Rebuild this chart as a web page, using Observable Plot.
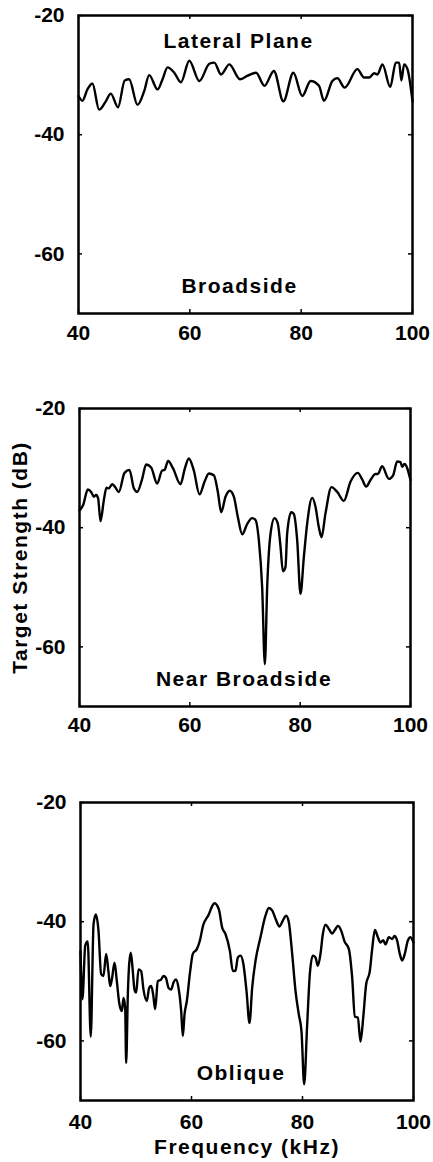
<!DOCTYPE html>
<html>
<head>
<meta charset="utf-8">
<script src="https://cdn.jsdelivr.net/npm/d3@7"></script>
<script src="https://cdn.jsdelivr.net/npm/@observablehq/plot@0.6"></script>
<style>
  html, body { margin: 0; padding: 0; background: #fff; }
  #wrap { position: relative; width: 433px; height: 1162px; overflow: hidden; }
  .panel { position: absolute; left: 0; }
  .panel svg { display: block; }
</style>
</head>
<body>
<div id="wrap"></div>
<script>
// ---- tick values ----
const xTicks = [40, 60, 80, 100];
const yTicks = [-20, -40, -60];

// ---- panel labels ----
const panelNames = ["Broadside", "Near Broadside", "Oblique"];
const planeLabel = "Lateral Plane";
const xAxisLabel = "Frequency (kHz)";
const yAxisLabel = "Target Strength (dB)";

// ---- series: [frequency kHz, target strength dB] ----
const broadside = [
  [40.0,-33.5],[40.7,-34.3],[41.6,-32.4],[42.5,-31.4],[43.7,-35.8],[44.9,-34.4],[45.8,-33.1],
  [47.1,-35.4],[48.3,-30.9],[49.1,-30.7],[50.6,-35.0],[51.8,-32.7],[52.7,-30.0],[54.2,-32.4],
  [55.1,-30.7],[56.0,-28.7],[57.2,-29.6],[58.4,-31.2],[59.9,-27.6],[61.7,-31.0],[63.5,-28.1],
  [64.4,-27.9],[65.6,-29.9],[67.1,-28.2],[69.0,-30.7],[70.4,-30.1],[71.9,-29.6],[73.4,-31.8],
  [75.1,-29.3],[76.8,-34.4],[78.6,-29.6],[80.2,-33.5],[81.7,-31.0],[83.2,-31.8],[84.1,-34.3],
  [85.6,-31.0],[86.5,-30.5],[87.8,-32.1],[90.1,-29.0],[91.3,-30.4],[92.2,-30.4],[93.1,-29.7],
  [93.7,-29.9],[94.6,-28.2],[96.0,-32.0],[97.0,-27.9],[97.6,-27.9],[98.0,-30.9],[98.5,-28.2],
  [99.1,-29.0],[100,-34.4]
];

const nearBroadside = [
  [40,-37.1],[40.66,-36.2],[41.51,-33.6],[42.11,-34.0],[42.6,-34.8],[43.02,-34.5],[43.38,-35.1],
  [43.81,-38.9],[44.41,-35.4],[44.89,-33.3],[45.32,-33.4],[45.92,-32.7],[46.4,-33.1],[47.13,-34.0],
  [48.16,-30.8],[49.06,-30.3],[49.85,-33.4],[50.45,-34.0],[51.36,-31.8],[52.08,-29.4],[52.99,-29.9],
  [54.08,-32.6],[54.98,-30.4],[55.41,-30.3],[56.07,-28.8],[56.98,-30.1],[58.31,-32.7],[59.09,-30.1],
  [59.82,-28.4],[60.72,-30.4],[61.75,-34.4],[62.66,-32.3],[63.44,-30.9],[64.35,-31.2],[65.08,-34.0],
  [65.68,-37.4],[66.47,-34.8],[67.25,-33.8],[67.98,-34.8],[68.7,-38.2],[69.49,-41.1],[70.39,-39.4],
  [71.3,-38.4],[71.9,-38.7],[72.51,-42.1],[73.11,-50.0],[73.6,-62.9],[74.02,-50.0],[74.63,-41.0],
  [75.35,-38.4],[75.95,-39.3],[76.44,-43.2],[76.86,-47.3],[77.34,-46.6],[77.64,-41.0],[78.37,-37.4],
  [78.85,-37.7],[79.46,-42.1],[80.06,-51.1],[80.67,-44.9],[81.27,-39.3],[82.18,-35.0],[82.78,-36.5],
  [83.38,-39.9],[83.87,-41.6],[84.59,-37.6],[85.68,-33.2],[86.71,-34.0],[87.92,-35.5],[89.12,-32.3],
  [90.45,-30.8],[91.24,-31.9],[91.96,-33.1],[92.75,-32.0],[93.66,-31.0],[94.08,-31.0],[94.86,-29.7],
  [96.07,-31.8],[96.86,-31.2],[97.58,-28.9],[98.19,-29.0],[98.49,-29.8],[98.91,-29.3],[100,-32.0]
];

const oblique = [
  [40,-45],[40.35,-53],[40.85,-44],[41.3,-43.3],[41.85,-59.3],[42.35,-40.4],[42.76,-38.8],
  [43.24,-41.5],[43.72,-48.8],[44.14,-49.1],[44.62,-45.4],[45.05,-48.5],[45.35,-50.8],[45.65,-49.7],
  [46.13,-46.9],[46.55,-50],[46.97,-53.6],[47.45,-55],[47.75,-52.8],[48.05,-54.5],[48.23,-63.7],
  [48.53,-52.2],[48.77,-47.1],[49.07,-45.2],[49.37,-47.7],[49.73,-51.4],[50.03,-51.9],[50.45,-48],
  [50.93,-48.3],[51.35,-51.4],[51.95,-53.3],[52.37,-51.1],[52.73,-50.8],[53.09,-52.2],[53.45,-54.7],
  [53.93,-50],[54.53,-49.7],[54.95,-49.1],[55.38,-49.4],[55.86,-51.1],[56.34,-51.4],[56.76,-50.2],
  [57.18,-49.7],[57.66,-51.1],[58.14,-55],[58.44,-59.2],[58.74,-55.6],[59.16,-53.3],[59.76,-48.3],
  [60.24,-45.4],[60.96,-44.6],[61.5,-43.2],[62.1,-40.6],[63.0,-39],[64.14,-36.9],[64.92,-37.9],
  [65.53,-41],[66.13,-42.1],[66.91,-44.9],[67.45,-48.3],[67.93,-48.2],[68.35,-46],[68.83,-45.7],
  [69.31,-46.9],[69.91,-51.6],[70.45,-57],[70.93,-51.1],[71.53,-46.6],[72.43,-42.6],[73.33,-39],
  [73.93,-37.7],[74.53,-38.1],[75.14,-39.5],[75.86,-40.8],[76.46,-39.8],[77.06,-39],[77.54,-40.1],
  [78.14,-45.4],[78.74,-51.6],[79.34,-55.6],[79.82,-58.4],[80.3,-67.3],[80.84,-57.3],[81.32,-48.8],
  [81.86,-45.7],[82.34,-46],[82.76,-47.4],[83.24,-45.4],[83.66,-42.1],[84.14,-40.5],[84.74,-41.2],
  [85.35,-42],[85.83,-41.4],[86.37,-40.7],[86.97,-41.5],[87.57,-43.3],[88.35,-44.6],[88.95,-49.4],
  [89.43,-55.9],[89.97,-56.1],[90.45,-60.1],[90.94,-56.1],[91.47,-50.5],[92.13,-48.3],[92.55,-44.6],
  [93.04,-41.4],[93.58,-42.6],[94.05,-43.5],[94.54,-43.1],[94.95,-43.8],[95.56,-42.6],[96.16,-42.9],
  [96.58,-42.4],[97.06,-43.2],[97.48,-45.2],[97.96,-46.5],[98.43,-45.4],[98.97,-43.2],[99.46,-42.6],
  [100,-43.5]
];

const FONT = "'Liberation Sans', Arial, Helvetica, sans-serif";
const W = 433;

function makePanel({data, name, top, height, marginTop, marginBottom, marginLeft, marginRight,
                    tickPad, topLabel, xLabel, yLabel, nameDx}) {
  const pw = W - marginLeft - marginRight;
  const ph = height - marginTop - marginBottom;
  const tickLen = 4;
  const marks = [
    Plot.line(data, {x: d => d[0], y: d => d[1], stroke: "#000", strokeWidth: 2.4,
                     curve: "monotone-x", strokeLinejoin: "round"}),
    // inward ticks on all four sides
    Plot.tickY(yTicks, {y: d => d, insetRight: pw - tickLen, stroke: "#000", strokeWidth: 1.5}),
    Plot.tickY(yTicks, {y: d => d, insetLeft: pw - tickLen, stroke: "#000", strokeWidth: 1.5}),
    Plot.tickX(xTicks, {x: d => d, insetTop: ph - tickLen, stroke: "#000", strokeWidth: 1.5}),
    Plot.tickX(xTicks, {x: d => d, insetBottom: ph - tickLen, stroke: "#000", strokeWidth: 1.5}),
    Plot.frame({stroke: "#000", strokeWidth: 2.5}),
    Plot.axisX(xTicks, {tickSize: 0, tickPadding: tickPad, tickFormat: d => String(d),
      label: xLabel, labelAnchor: "center", labelArrow: "none", labelOffset: 53}),
    Plot.axisY(yTicks, {tickSize: 0, tickPadding: 14, tickFormat: d => String(d),
      label: yLabel, labelAnchor: "center", labelArrow: "none", labelOffset: 67}),
    Plot.text([name], {text: d => d, frameAnchor: "bottom", lineAnchor: "bottom",
      dy: -21, dx: nameDx, fontSize: 21, fontWeight: "bold", fill: "#000"})
  ];
  if (topLabel) {
    marks.push(Plot.text([topLabel], {text: d => d, frameAnchor: "top", lineAnchor: "bottom",
      dy: 32, dx: -7, fontSize: 21, fontWeight: "bold", fill: "#000"}));
  }
  const svg = Plot.plot({
    width: W, height, marginTop, marginBottom, marginLeft, marginRight,
    style: {fontFamily: FONT, fontSize: "21px", fontWeight: "bold", color: "#000", background: "#fff"},
    x: {domain: [40, 100]},
    y: {domain: [-70, -20]},
    marks
  });
  d3.select(svg).selectAll("text")
    .filter(function() { return this.textContent.length > 4; })
    .attr("letter-spacing", "1.5px");
  const div = document.createElement("div");
  div.className = "panel";
  div.style.top = top + "px";
  div.appendChild(svg);
  document.getElementById("wrap").appendChild(div);
}

makePanel({data: broadside, name: panelNames[0], top: 0, height: 345, marginTop: 15, marginBottom: 32,
  marginLeft: 78, marginRight: 21, tickPad: 12, topLabel: planeLabel, xLabel: null, yLabel: null, nameDx: -6});
makePanel({data: nearBroadside, name: panelNames[1], top: 393, height: 345, marginTop: 15, marginBottom: 32,
  marginLeft: 79, marginRight: 23, tickPad: 11, topLabel: null, xLabel: null, yLabel: yAxisLabel, nameDx: -1});
makePanel({data: oblique, name: panelNames[2], top: 787, height: 375, marginTop: 15, marginBottom: 62,
  marginLeft: 80, marginRight: 20, tickPad: 14, topLabel: null, xLabel: xAxisLabel, yLabel: null, nameDx: -6});
</script>
</body>
</html>
